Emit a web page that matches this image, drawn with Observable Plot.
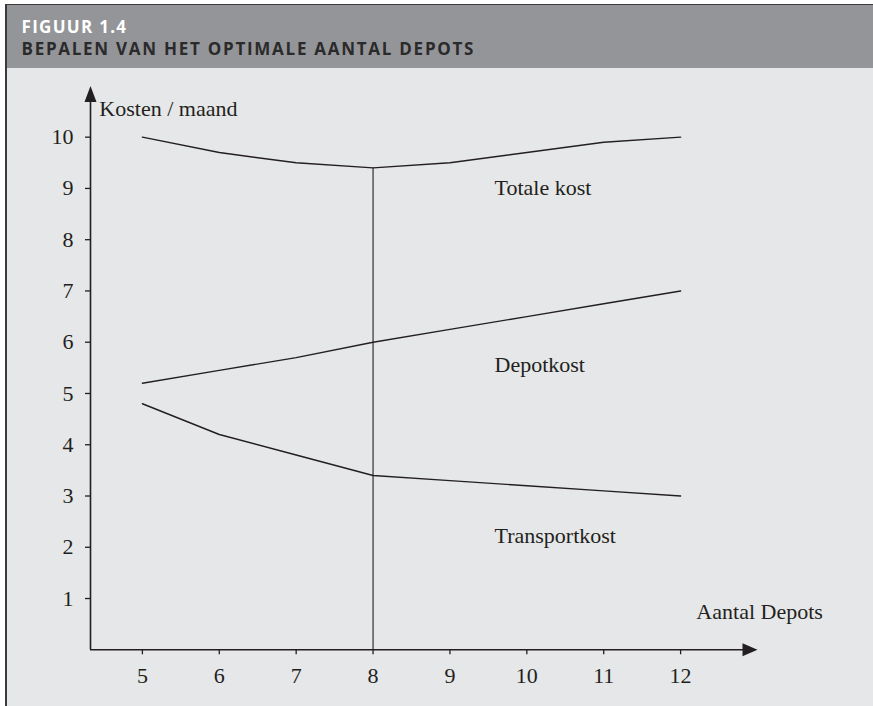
<!DOCTYPE html>
<html><head><meta charset="utf-8">
<script src="https://cdn.jsdelivr.net/npm/d3@7"></script>
<script src="https://cdn.jsdelivr.net/npm/@observablehq/plot@0.6"></script>
<style>
html,body{margin:0;padding:0;background:#fff;}
#panel{position:absolute;left:5px;top:4px;width:868px;height:702px;background:#e6e7e8;border-left:2px solid #3a3a3a;border-top:1px solid #3a3a3a;box-sizing:border-box;overflow:hidden}
#header{position:absolute;left:0;top:0;right:0;height:63px;background:#939598;}
.hl{position:absolute;left:14.5px;font-family:"Open Sans",sans-serif;font-weight:700;font-size:17px;white-space:nowrap;line-height:1;display:inline-block}
#chart{position:absolute;left:0;top:68px;}
</style>
</head><body>
<div id="panel"><div id="header">
<span class="hl" id="h1" style="top:12.8px;color:#ffffff">FIGUUR 1.4</span>
<span class="hl" id="h2" style="top:35.4px;color:#2b2a2b">BEPALEN VAN HET OPTIMALE AANTAL DEPOTS</span>
</div></div>
<div id="chart"></div>
<script>
// Data
const depots = [5, 6, 7, 8, 9, 10, 11, 12];
const totaleKost = [10, 9.7, 9.5, 9.4, 9.5, 9.7, 9.9, 10];
const depotKost = [5.2, 5.45, 5.7, 6.0, 6.25, 6.5, 6.75, 7.0];
const transportKost = [4.8, 4.2, 3.8, 3.4, 3.3, 3.2, 3.1, 3.0];
const xTicks = [5, 6, 7, 8, 9, 10, 11, 12];
const yTicks = [1, 2, 3, 4, 5, 6, 7, 8, 9, 10];
const xDomain = [4.325, 13];
const yDomain = [0, 11];
const optimum = 8;
const seriesNames = ["Totale kost", "Depotkost", "Transportkost"];
const seriesLabelX = [9.58, 9.58, 9.58];
const seriesLabelY = [9.0, 5.55, 2.23];
const axisTitles = ["Kosten / maand", "Aantal Depots"];

// header tracking fit
[["h1", 104.6], ["h2", 452]].forEach(([id, w]) => {
  const el = document.getElementById(id);
  const nat = el.getBoundingClientRect().width;
  const n = el.textContent.length - 1;
  el.style.letterSpacing = `${(w - nat) / n}px`;
});

const ink = "#231f20";
const rows = (vals) => depots.map((d, i) => ({x: d, y: vals[i]}));
const labels = seriesNames.map((t, i) => ({text: t, x: seriesLabelX[i], y: seriesLabelY[i]}));

const arrowRight = {draw(ctx) { ctx.moveTo(0, 0); ctx.lineTo(-15, -6.5); ctx.lineTo(-15, 6.5); ctx.closePath(); }};
const arrowUp = {draw(ctx) { ctx.moveTo(0, 0); ctx.lineTo(-6, 16); ctx.lineTo(6, 16); ctx.closePath(); }};

const chart = Plot.plot({
  width: 873,
  height: 638,
  marginLeft: 90,
  marginRight: 116,
  marginTop: 17.4,
  marginBottom: 56.7,
  style: {background: "transparent", fontFamily: "'Liberation Serif', serif", fontSize: "22px", color: ink},
  x: {domain: xDomain, label: null},
  y: {domain: yDomain, label: null},
  marks: [
    Plot.ruleY([yDomain[0]], {x1: xDomain[0], x2: xDomain[1] - 0.1, stroke: ink, strokeWidth: 1.6}),
    Plot.ruleX([xDomain[0]], {y1: yDomain[0], y2: yDomain[1] - 0.1, stroke: ink, strokeWidth: 1.6}),
    Plot.dot([{x: xDomain[1], y: yDomain[0]}], {x: "x", y: "y", symbol: arrowRight, r: 5, fill: ink, stroke: "none"}),
    Plot.dot([{x: xDomain[0], y: yDomain[1]}], {x: "x", y: "y", symbol: arrowUp, r: 5, fill: ink, stroke: "none"}),
    Plot.axisX(xTicks, {tickSize: 5, tickPadding: 13, tickFormat: d3.format("d"), stroke: ink, strokeWidth: 1.3, fill: ink, label: null}),
    Plot.axisY(yTicks, {tickSize: 5, tickPadding: 12, tickFormat: d3.format("d"), stroke: ink, strokeWidth: 1.3, fill: ink, label: null}),
    Plot.ruleX([optimum], {y1: yDomain[0], y2: totaleKost[depots.indexOf(optimum)], stroke: ink, strokeWidth: 1.1}),
    Plot.line(rows(totaleKost), {x: "x", y: "y", stroke: ink, strokeWidth: 1.4}),
    Plot.line(rows(depotKost), {x: "x", y: "y", stroke: ink, strokeWidth: 1.4}),
    Plot.line(rows(transportKost), {x: "x", y: "y", stroke: ink, strokeWidth: 1.4}),
    Plot.text(labels, {x: "x", y: "y", text: "text", textAnchor: "start", fill: ink}),
    Plot.text([axisTitles[0]], {x: 4.44, y: 10.56, text: d => d, textAnchor: "start", fill: ink}),
    Plot.text([axisTitles[1]], {x: 12.205, y: 0.74, text: d => d, textAnchor: "start", fill: ink})
  ]
});
document.getElementById("chart").appendChild(chart);
</script>
</body></html>
